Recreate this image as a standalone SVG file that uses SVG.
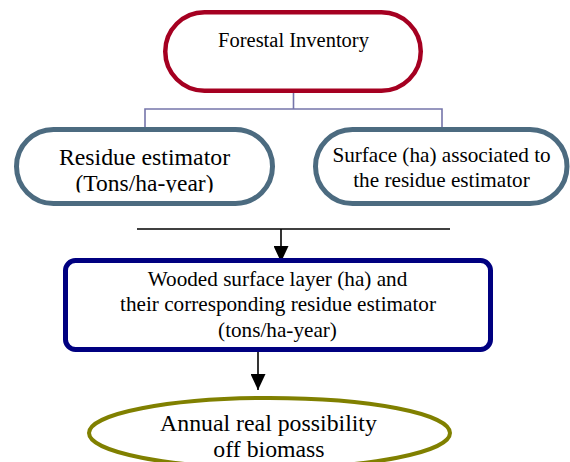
<svg xmlns="http://www.w3.org/2000/svg" width="570" height="462" viewBox="0 0 570 462">
<style>
  .t { font-family: 'Liberation Serif', 'DejaVu Serif', serif; fill: #000; text-anchor: middle; }
  .stadium { fill: #fff; stroke: #4C6B80; stroke-width: 5; }
  .tree { fill: none; stroke: #7575AA; stroke-width: 1.6; }
  .flow { fill: none; stroke: #000; stroke-width: 1.6; }
</style>
<defs>
  <marker id="arrow" viewBox="0 0 16 15" refX="16" refY="7.5" markerWidth="16" markerHeight="15" markerUnits="userSpaceOnUse" orient="auto">
    <path d="M0,0 L16,7.5 L0,15 Z" fill="#000"/>
  </marker>
  <clipPath id="clipLeft"><rect x="0" y="0" width="570" height="192.5"/></clipPath>
</defs>
<rect width="570" height="462" fill="#fff"/>

<g id="connectors">
  <path class="tree" d="M293.5,92 V109 M145,109 H442.5 M145,108.2 V129 M442,108.2 V129"/>
  <line class="flow" x1="137" y1="229" x2="450" y2="229"/>
  <line class="flow" x1="281" y1="229" x2="281" y2="262" marker-end="url(#arrow)"/>
  <line class="flow" x1="258" y1="352" x2="258" y2="390" marker-end="url(#arrow)"/>
</g>

<g id="forestal-inventory">
  <rect x="165.25" y="12.25" width="255.5" height="78.5" rx="39.25" fill="#fff" stroke="#A50021" stroke-width="4.5"/>
  <text class="t" font-family="Liberation Serif, serif" x="293.5" y="47" font-size="20.5">Forestal Inventory</text>
</g>

<g id="residue-estimator">
  <rect class="stadium" x="16.5" y="129.5" width="256" height="74" rx="37"/>
  <g clip-path="url(#clipLeft)">
    <text class="t" font-family="Liberation Serif, serif" x="144.5" y="165" font-size="23.8">Residue estimator</text>
    <text class="t" font-family="Liberation Serif, serif" x="144.5" y="191" font-size="23.5">(Tons/ha-year)</text>
  </g>
</g>

<g id="surface-associated">
  <rect class="stadium" x="315.5" y="129.5" width="251.5" height="74" rx="37"/>
  <text class="t" font-family="Liberation Serif, serif" x="441.5" y="162" font-size="21.2">Surface (ha) associated to</text>
  <text class="t" font-family="Liberation Serif, serif" x="441.5" y="187" font-size="21.2">the residue estimator</text>
</g>

<g id="wooded-surface">
  <rect x="65.5" y="260.5" width="425" height="89" rx="10" fill="#fff" stroke="#000080" stroke-width="5"/>
  <text class="t" font-family="Liberation Serif, serif" x="277.5" y="286" font-size="21.2">Wooded surface layer (ha) and</text>
  <text class="t" font-family="Liberation Serif, serif" x="278" y="311" font-size="21.2">their corresponding residue estimator</text>
  <text class="t" font-family="Liberation Serif, serif" x="277.5" y="337" font-size="21.2">(tons/ha-year)</text>
</g>

<g id="annual-possibility">
  <ellipse cx="269.5" cy="433" rx="180.5" ry="35" fill="#fff" stroke="#808000" stroke-width="4"/>
  <text class="t" font-family="Liberation Serif, serif" x="268.5" y="431" font-size="23.8">Annual real possibility</text>
  <text class="t" font-family="Liberation Serif, serif" x="269" y="457" font-size="23.8">off biomass</text>
</g>
</svg>
